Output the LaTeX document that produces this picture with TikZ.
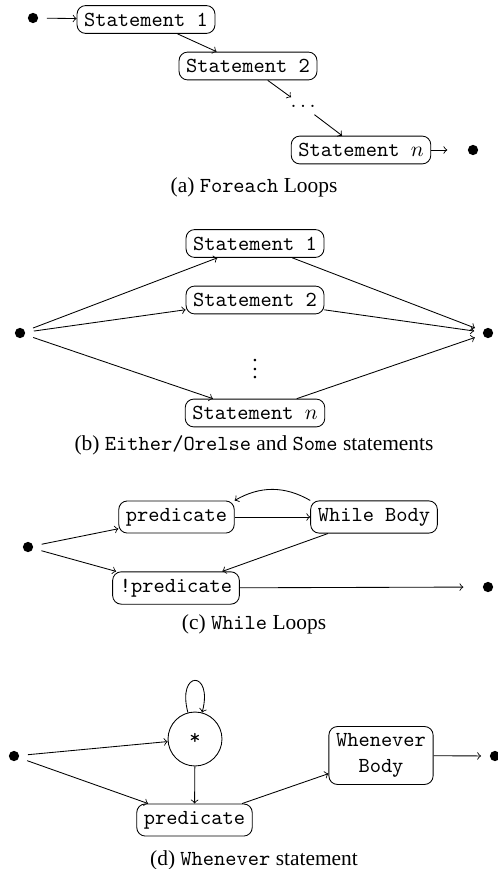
\documentclass[tikz,border=0pt]{standalone}
\usepackage{fontspec}
\setmainfont{Liberation Serif}
\setmonofont{Latin Modern Mono}
\begin{document}
\begin{tikzpicture}[x=0.467pt, y=-0.467pt, >=to,
  stmt/.style={draw, rounded corners=4pt, font=\ttfamily},
  dot/.style={circle, fill, inner sep=0pt, minimum size=4.8pt, outer sep=4.1pt},
  subcap/.style={inner sep=0pt}]
\useasboundingbox (0,0) rectangle (497,869);

% (a) foreach loops
\node[dot] (a0) at (33,18) {};
\node[stmt] (a1) at (146,19.5) {Statement 1};
\node[stmt] (a2) at (248,66) {Statement 2};
\node (adots) at (303,106) {$\ldots$};
\node[stmt] (an) at (361,150) {Statement $n$};
\node[dot] (aend) at (473,150) {};
\draw[->] (a0) -- (a1);
\draw[->] (a1) -- (a2);
\draw[->] (a2) -- (adots);
\draw[->] (adots) -- (an);
\draw[->, shorten >=5.5pt] (an) -- (aend);
\node[subcap] (capa) at (254,187) {(a) \texttt{Foreach} Loops};

% (b) either/orelse and some
\node[dot] (b0) at (20,333) {};
\node[stmt] (b1) at (255,243.5) {Statement 1};
\node[stmt] (b2) at (255,300) {Statement 2};
\node (bdots) at (255,363) {$\vdots$};
\node[stmt] (bn) at (255,413) {Statement $n$};
\node[dot] (bend) at (488,333) {};
\foreach \s in {b1,b2,bn}
{
  \draw[->] (b0) -- (\s);
  \draw[->] (\s) -- (bend);
}
\node[subcap] (capb) at (254,445) {(b) \texttt{Either/Orelse} and \texttt{Some} statements};

% (c) while loops
\node[dot] (c0) at (28,547) {};
\node[stmt] (cp) at (176.5,517) {predicate};
\node[stmt] (cw) at (374,517) {While Body};
\node[stmt] (cn) at (176,588) {!predicate};
\node[dot] (cend) at (488,587) {};
\draw[->] (c0) -- (cp);
\draw[->] (c0) -- (cn);
\draw[->] (cp) -- (cw);
\draw[->] (cw.north west) to[bend right] (cp.north east);
\draw[->] (cw) -- (cn);
\draw[->, shorten >=5pt] (cn) -- (cend);
\node[subcap] (capc) at (254,624) {(c) \texttt{While} Loops};

% (d) whenever statement
\node[dot] (d0) at (14,756) {};
\node[draw, circle, minimum size=25.2pt, font=\ttfamily] (dstar) at (195,739) {*};
\node[stmt] (dp) at (194.5,820) {predicate};
\node[stmt, align=center] (dw) at (381,755.5) {Whenever\\Body};
\node[dot] (dend) at (495,756) {};
\draw[->] (d0) -- (dstar);
\draw[->] (d0) -- (dp);
\draw[->] (dstar) to[loop above] (dstar);
\draw[->] (dstar) -- (dp);
\draw[->] (dp) -- (dw);
\draw[->] (dw) -- (dend);
\node[subcap] (capd) at (254,860) {(d) \texttt{Whenever} statement};
\end{tikzpicture}
\end{document}
